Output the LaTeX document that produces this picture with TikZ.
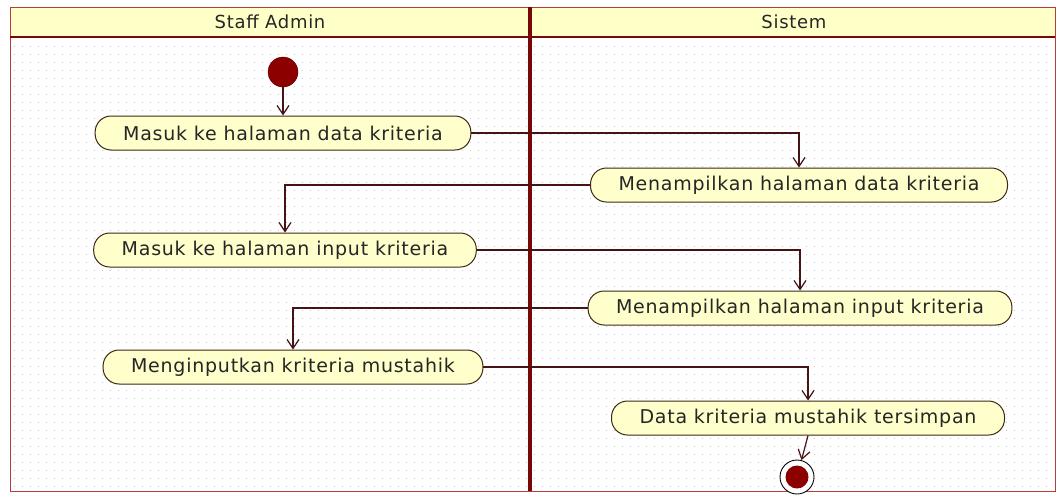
\documentclass[tikz,border=0pt]{standalone}
\usepackage{fontspec}
\setmainfont{DejaVu Sans}[LetterSpace=4]
\usetikzlibrary{arrows.meta}

\definecolor{lanered}{RGB}{120,8,8}
\definecolor{laneedge}{RGB}{185,60,60}
\definecolor{headfill}{RGB}{255,255,200}
\definecolor{actfill}{RGB}{255,255,204}
\definecolor{actborder}{RGB}{60,40,20}
\definecolor{flowcol}{RGB}{70,20,20}
\definecolor{startred}{RGB}{140,0,0}
\definecolor{griddot}{RGB}{200,200,208}

\begin{document}
\begin{tikzpicture}[x=1pt, y=-1pt,
    act/.style={draw=actborder, line width=1pt, fill=actfill, rounded corners=16pt, minimum height=34pt,
        inner xsep=28pt, font=\fontsize{19}{21}\selectfont, text=black!85},
    lanelabel/.style={font=\fontsize{18}{20}\selectfont, text=black!85},
    flow/.style={flowcol, line width=1.2pt, -{Straight Barb[length=9pt,width=12pt]}},
    startnode/.style={circle, fill=startred, draw=startred!60!black, minimum size=30pt, inner sep=0pt},
    endnode/.style={circle, draw=black, line width=0.9pt, fill=white, minimum size=34pt, inner sep=0pt,
        path picture={\fill[startred] (path picture bounding box.center) circle (11.5pt);}}]
    \useasboundingbox (0,0) rectangle (1059,499);

    % swimlanes
    \fill[white] (10,7) rectangle (1055,491);
    \foreach \y in {46,54,...,486}
        \draw[griddot, line width=1pt, dash pattern=on 1pt off 7pt] (14,\y) -- (1052,\y);
    \fill[headfill] (10,7) rectangle (1055,37);
    \draw[laneedge, line width=0.8pt] (10,7) rectangle (1055,491);
    \draw[lanered, line width=2.5pt] (10,37) -- (1055,37);
    \draw[lanered, line width=4pt] (530,7) -- (530,491);
    \node[lanelabel] (lane1) at (270,22) {Staff Admin};
    \node[lanelabel] (lane2) at (794,22) {Sistem};

    % activities
    \node[startnode] (start) at (283,72) {};
    \node[act] (a1) at (283,133) {Masuk ke halaman data kriteria};
    \node[act] (a2) at (799,185) {Menampilkan halaman data kriteria};
    \node[act] (a3) at (285,250) {Masuk ke halaman input kriteria};
    \node[act] (a4) at (800,308) {Menampilkan halaman input kriteria};
    \node[act] (a5) at (293,367) {Menginputkan kriteria mustahik};
    \node[act] (a6) at (808,418) {Data kriteria mustahik tersimpan};
    \node[endnode] (end) at (797,477) {};

    % control flow
    \draw[flow] (start) -- (a1);
    \draw[flow] (a1.east) -| (a2.north);
    \draw[flow] (a2.west) -| (a3.north);
    \draw[flow] (a3.east) -| (a4.north);
    \draw[flow] (a4.west) -| (a5.north);
    \draw[flow] (a5.east) -| (a6.north);
    \draw[flow] (a6.south) -- (end);
\end{tikzpicture}
\end{document}
